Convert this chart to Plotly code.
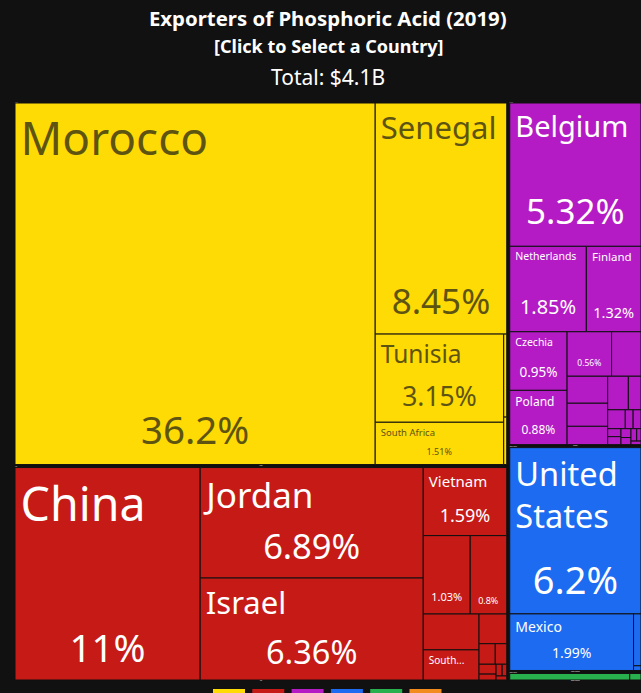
import plotly.graph_objects as go

# Continents (top level of the treemap)
continents = ["Africa", "Asia", "Europe", "North America", "South America"]
continent_colors = ["#FFDB05", "#C61A17", "#B41BC4", "#1C6BF0", "#28B04E"]

# Countries: name, parent continent, share of exports (%)
africa = ["Morocco", "Senegal", "Tunisia", "South Africa", "Egypt", "Togo"]
africa_vals = [36.2, 8.45, 3.15, 1.51, 0.07, 0.04]

asia = ["China", "Jordan", "Israel", "Vietnam", "India", "Japan", "Taiwan", "South Korea",
        "Indonesia", "Thailand", "Malaysia", "Saudi Arabia", "Turkey", "Pakistan", "Lebanon", "Singapore"]
asia_vals = [11, 6.89, 6.36, 1.59, 1.03, 0.8, 0.56, 0.47, 0.23, 0.093, 0.066, 0.047, 0.028, 0.02, 0.015, 0.012]

europe = ["Belgium", "Netherlands", "Finland", "Czechia", "Poland", "Germany", "Spain", "France", "Italy",
          "Lithuania", "Bulgaria", "Romania", "Austria", "Sweden", "Denmark", "Hungary", "United Kingdom",
          "Slovakia", "Greece", "Croatia", "Estonia", "Latvia"]
europe_vals = [5.32, 1.85, 1.32, 0.95, 0.88, 0.56, 0.37, 0.31, 0.265, 0.21, 0.196, 0.12, 0.094, 0.042, 0.042,
               0.03, 0.03, 0.025, 0.02, 0.02, 0.015, 0.01]

north_america = ["United States", "Mexico", "Canada", "Guatemala"]
north_america_vals = [6.2, 1.99, 0.11, 0.01]

south_america = ["Brazil", "Colombia"]
south_america_vals = [0.32, 0.03]

# Swatches under the chart
swatch_colors = ["#FFDB05", "#C61A17", "#B41BC4", "#1C6BF0", "#28B04E", "#F28C1E"]

# Texts shown in the tiles
tile_names = {
    "Morocco": "Morocco", "Senegal": "Senegal", "Tunisia": "Tunisia", "South Africa": "South Africa",
    "China": "China", "Jordan": "Jordan", "Israel": "Israel", "Vietnam": "Vietnam", "South Korea": "South...",
    "Belgium": "Belgium", "Netherlands": "Netherlands", "Finland": "Finland", "Czechia": "Czechia",
    "Poland": "Poland", "United States": "United<br>States", "Mexico": "Mexico",
}
tile_shares = {
    "Morocco": "36.2%", "Senegal": "8.45%", "Tunisia": "3.15%", "South Africa": "1.51%",
    "China": "11%", "Jordan": "6.89%", "Israel": "6.36%", "Vietnam": "1.59%", "India": "1.03%", "Japan": "0.8%",
    "Belgium": "5.32%", "Netherlands": "1.85%", "Finland": "1.32%", "Czechia": "0.95%", "Poland": "0.88%",
    "Germany": "0.56%", "United States": "6.2%", "Mexico": "1.99%",
}

# Font sizes
name_sizes = {"Morocco": 46, "Senegal": 31, "Tunisia": 24.5, "South Africa": 9.5, "China": 46.5, "Jordan": 35,
              "Israel": 31, "Vietnam": 15, "South Korea": 10, "Belgium": 29, "Netherlands": 10.5, "Finland": 11.5,
              "Czechia": 10.5, "Poland": 12, "United States": 32.5, "Mexico": 14}
share_sizes = {"Morocco": 38.5, "Senegal": 35, "Tunisia": 26.5, "South Africa": 9, "China": 38.5, "Jordan": 34.5,
               "Israel": 32.5, "Vietnam": 18, "India": 11, "Japan": 9, "Belgium": 35, "Netherlands": 20,
               "Finland": 14.5, "Czechia": 13.5, "Poland": 12, "Germany": 8.5, "United States": 38, "Mexico": 14}
# How far each share sits above the tile's bottom edge
share_lifts = {"Morocco": 11.5, "Senegal": 10.5, "Tunisia": 8.5, "South Africa": 4, "China": 9.5, "Jordan": 10,
               "Israel": 8.5, "Vietnam": 6.5, "India": 6, "Japan": 5, "Belgium": 12, "Netherlands": 9, "Finland": 7,
               "Czechia": 6.5, "Poland": 5, "Germany": 5, "United States": 11, "Mexico": 6}


def name_text(label):
    # small non-breaking space so names start a bit further from the edge
    name = tile_names.get(label, "")
    if not name:
        return ""
    indent = '<span style="font-size:10px">&nbsp;</span>'
    return indent + name.replace("<br>", "<br>" + indent)


def share_text(label):
    # the empty second line, at the trace's small base size, lifts the share
    share = tile_shares.get(label, "")
    if not share:
        return ""
    return '<span style="font-size:%spx">%s</span><br>&nbsp;' % (share_sizes[label], share)


groups = [
    ("Africa", africa, africa_vals),
    ("Asia", asia, asia_vals),
    ("Europe", europe, europe_vals),
    ("North America", north_america, north_america_vals),
    ("South America", south_america, south_america_vals),
]

BG = "#111111"
TILING = dict(packing="squarify", squarifyratio=1.618, pad=0)
PAD = dict(t=1.5, l=1.5, r=1.5, b=1.5)

labels = list(continents)
parents = [""] * len(continents)
values = [0] * len(continents)
colors = [BG] * len(continents)
text_colors = ["#FFFFFF"] * len(continents)
for (cont, names, vals), col in zip(groups, continent_colors):
    for n, v in zip(names, vals):
        labels.append(n)
        parents.append(cont)
        values.append(v)
        colors.append(col)
        text_colors.append("#5E5412" if cont == "Africa" else "#FFFFFF")

fig = go.Figure()

# Tiles + country names
fig.add_trace(go.Treemap(
    labels=labels, parents=parents, values=values,
    text=[name_text(l) for l in labels],
    textinfo="text",
    textposition="top left",
    textfont=dict(family="Noto Sans", size=[name_sizes.get(l, 9) for l in labels], color=text_colors),
    marker=dict(colors=colors, line=dict(color=BG, width=1), pad=PAD),
    pathbar=dict(visible=False),
    tiling=TILING,
    hoverinfo="label+value",
    root=dict(color=BG),
))

# Same tiles again, see-through, for the shares at the bottom
fig.add_trace(go.Treemap(
    labels=labels, parents=parents, values=values,
    text=[share_text(l) for l in labels],
    textinfo="text",
    textposition="bottom center",
    textfont=dict(family="Noto Sans", size=[share_lifts.get(l, 5) for l in labels], color=text_colors),
    marker=dict(colors=["rgba(0,0,0,0)"] * len(labels), line=dict(width=0), pad=PAD),
    pathbar=dict(visible=False),
    tiling=TILING,
    hoverinfo="skip",
    root=dict(color="rgba(0,0,0,0)"),
))

swatches = [
    dict(type="rect", xref="paper", yref="paper", x0=(213 + i * 39.3 - 12) / 632, x1=(245 + i * 39.3 - 12) / 632,
         y0=-10 / 583, y1=-6 / 583, fillcolor=c, line=dict(width=0))
    for i, c in enumerate(swatch_colors)
]

# slightly wider than the window: the last tiles run off the right edge
fig.update_layout(
    width=644, height=693,
    margin=dict(l=12, r=0, t=100, b=10),
    paper_bgcolor=BG,
    font=dict(family="Noto Sans", color="#FFFFFF"),
    title=dict(text="<b>Exporters of Phosphoric Acid (2019)</b>", x=0.509, xanchor="center",
               y=0.9726, yanchor="middle", font=dict(size=20.4, color="#FFFFFF")),
    annotations=[
        dict(text="<b>[Click to Select a Country]</b>", x=0.5, y=1.0926, yanchor="middle", xref="paper", yref="paper",
             showarrow=False, font=dict(size=18, color="#FFFFFF")),
        dict(text="Total: $4.1B", x=0.5, y=1.0395, yanchor="middle", xref="paper", yref="paper",
             showarrow=False, font=dict(size=21, color="#FFFFFF")),
    ],
    shapes=swatches,
)

fig.write_html("out.html", config=dict(displayModeBar=False),
               post_script="document.body.style.margin='0';document.body.style.overflow='hidden';"
                           "document.body.style.background='%s';" % BG)
